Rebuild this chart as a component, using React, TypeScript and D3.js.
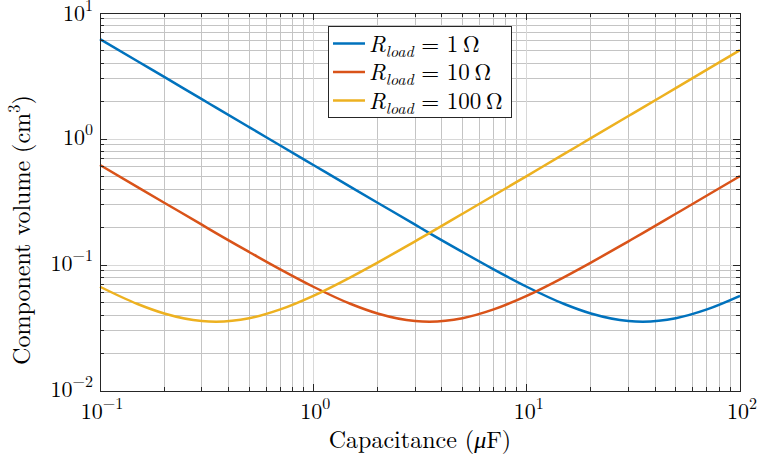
import React from "react";
import * as d3 from "d3";

// Capacitance samples (µF)
const capacitance = [0.1, 0.15, 0.2, 0.3, 0.35, 0.5, 0.7, 1, 1.5, 2, 3, 3.5, 5, 7, 10, 15, 20, 30, 35, 50, 70, 100];

// Component volume (cm^3) for each load resistance
const volume1 = [6.21, 4.14, 3.11, 2.07, 1.775, 1.243, 0.888, 0.622, 0.415, 0.312, 0.209, 0.179, 0.1268, 0.0923, 0.0672, 0.049, 0.0412, 0.0359, 0.0355, 0.0378, 0.0444, 0.0569];
const volume10 = [0.622, 0.415, 0.312, 0.209, 0.179, 0.1268, 0.0923, 0.0672, 0.049, 0.0412, 0.0359, 0.0355, 0.0378, 0.0444, 0.0569, 0.0802, 0.1045, 0.1542, 0.179, 0.2549, 0.356, 0.508];
const volume100 = [0.0672, 0.049, 0.0412, 0.0359, 0.0355, 0.0378, 0.0444, 0.0569, 0.0802, 0.1045, 0.1542, 0.179, 0.2549, 0.356, 0.508, 0.761, 1.015, 1.522, 1.775, 2.536, 3.55, 5.07];

const seriesNames = ["1", "10", "100"];
const seriesColors = ["#0072BD", "#D95319", "#EDB120"];
const seriesValues = [volume1, volume10, volume100];

const xDecades = [-1, 0, 1, 2];
const yDecades = [-2, -1, 0, 1];

const W = 757;
const H = 463;
const left = 100, right = 740, top = 13, bottom = 391;
const FONT = "'Latin Modern Roman', 'CMU Serif', 'Liberation Serif', serif";

function minorValues(lo: number, hi: number) {
  const out: number[] = [];
  for (let e = lo; e < hi; e++) {
    for (let k = 2; k <= 9; k++) out.push(k * Math.pow(10, e));
  }
  return out;
}

function Pow10({ exp, x, y, anchor }: { exp: number; x: number; y: number; anchor: string }) {
  return (
    <text x={x} y={y} textAnchor={anchor} fontFamily={FONT} fontSize={22} fill="#000">
      10
      <tspan dy={-10} fontSize={16}>{exp < 0 ? "\u2212" + Math.abs(exp) : String(exp)}</tspan>
    </text>
  );
}

export default function App() {
  const x = d3.scaleLog().domain([0.1, 100]).range([left, right]);
  const y = d3.scaleLog().domain([0.01, 10]).range([bottom, top]);

  const xMinor = minorValues(-1, 2);
  const yMinor = minorValues(-2, 1);
  const xMajor = xDecades.map((e) => Math.pow(10, e));
  const yMajor = yDecades.map((e) => Math.pow(10, e));

  const line = d3
    .line<number>()
    .x((_, i) => x(capacitance[i]))
    .y((v) => y(v))
    .curve(d3.curveMonotoneX);

  const axisColor = "#262626";

  return (
    <svg width={W} height={H} style={{ position: "absolute", left: 0, top: 0, background: "#fff" }}>
      <rect x={0} y={0} width={W} height={H} fill="#fff" />
      {/* grid */}
      <g shapeRendering="crispEdges">
        {xMinor.map((v) => (
          <line key={"xm" + v} x1={x(v)} x2={x(v)} y1={top} y2={bottom} stroke="#c4c4c4" strokeWidth={1} />
        ))}
        {yMinor.map((v) => (
          <line key={"ym" + v} x1={left} x2={right} y1={y(v)} y2={y(v)} stroke="#c4c4c4" strokeWidth={1} />
        ))}
        {xMajor.map((v) => (
          <line key={"xM" + v} x1={x(v)} x2={x(v)} y1={top} y2={bottom} stroke="#d8d8d8" strokeWidth={1} />
        ))}
        {yMajor.map((v) => (
          <line key={"yM" + v} x1={left} x2={right} y1={y(v)} y2={y(v)} stroke="#d8d8d8" strokeWidth={1} />
        ))}
      </g>

      {/* series */}
      {seriesValues.map((vals, i) => (
        <path key={i} d={line(vals) || ""} fill="none" stroke={seriesColors[i]} strokeWidth={2.5} strokeLinejoin="round" />
      ))}

      {/* axes box and ticks */}
      <g shapeRendering="crispEdges" stroke={axisColor} strokeWidth={1}>
        <rect x={left} y={top} width={right - left} height={bottom - top} fill="none" />
        {xMajor.map((v) => (
          <g key={"xt" + v}>
            <line x1={x(v)} x2={x(v)} y1={bottom} y2={bottom - 7} />
            <line x1={x(v)} x2={x(v)} y1={top} y2={top + 7} />
          </g>
        ))}
        {xMinor.map((v) => (
          <g key={"xtm" + v}>
            <line x1={x(v)} x2={x(v)} y1={bottom} y2={bottom - 4} />
            <line x1={x(v)} x2={x(v)} y1={top} y2={top + 4} />
          </g>
        ))}
        {yMajor.map((v) => (
          <g key={"yt" + v}>
            <line x1={left} x2={left + 7} y1={y(v)} y2={y(v)} />
            <line x1={right} x2={right - 7} y1={y(v)} y2={y(v)} />
          </g>
        ))}
        {yMinor.map((v) => (
          <g key={"ytm" + v}>
            <line x1={left} x2={left + 4} y1={y(v)} y2={y(v)} />
            <line x1={right} x2={right - 4} y1={y(v)} y2={y(v)} />
          </g>
        ))}
      </g>

      {/* tick labels */}
      {xDecades.map((e) => (
        <Pow10 key={"xl" + e} exp={e} x={x(Math.pow(10, e)) + 2} y={419} anchor="middle" />
      ))}
      {yDecades.map((e) => (
        <Pow10 key={"yl" + e} exp={e} x={93} y={y(Math.pow(10, e)) + 6 + (e === 1 ? 2 : 0)} anchor="end" />
      ))}

      {/* axis titles */}
      <text x={420} y={448} textAnchor="middle" fontFamily={FONT} fontSize={24} fill="#000">
        Capacitance (<tspan fontStyle="italic">μ</tspan>F)
      </text>
      <text
        transform={`translate(30, ${(top + bottom) / 2 + 28}) rotate(-90)`}
        textAnchor="middle"
        fontFamily={FONT}
        fontSize={24}
        fill="#000"
      >
        Component volume (cm<tspan dy={-10} fontSize={17}>3</tspan>
        <tspan dy={10}>)</tspan>
      </text>

      {/* legend */}
      <g>
        <rect x={328.5} y={26.5} width={183} height={91} fill="#fff" stroke={axisColor} strokeWidth={1} />
        {seriesNames.map((n, i) => {
          const ly = 43.5 + i * 28.5;
          return (
            <g key={"lg" + n}>
              <line x1={333} x2={365} y1={ly} y2={ly} stroke={seriesColors[i]} strokeWidth={2.5} />
              <text x={369} y={ly + 8} fontFamily={FONT} fontSize={23} fill="#000">
                <tspan fontStyle="italic">R</tspan>
                <tspan dy={5} fontSize={16} fontStyle="italic">load</tspan>
                <tspan dy={-5}>{" = " + n + "\u2009Ω"}</tspan>
              </text>
            </g>
          );
        })}
      </g>
    </svg>
  );
}
